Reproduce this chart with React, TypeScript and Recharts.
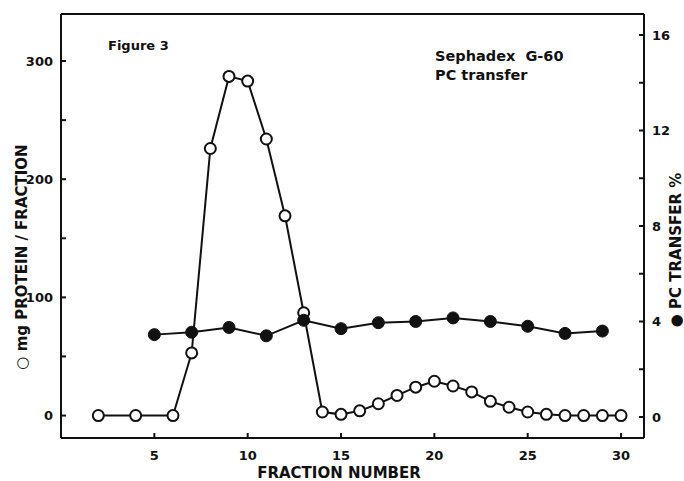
import React from 'react';
import { LineChart, Line, XAxis, YAxis } from 'recharts';

// Sephadex G-60 column: protein per fraction (open circles, left axis)
const proteinFractions = [2, 4, 6, 7, 8, 9, 10, 11, 12, 13, 14, 15, 16, 17, 18, 19, 20, 21, 22, 23, 24, 25, 26, 27, 28, 29, 30];
const proteinMg = [0, 0, 0, 53, 226, 287, 283, 234, 169, 87, 3, 1, 4, 10, 17, 24, 29, 25, 20, 12, 7, 3, 1, 0, 0, 0, 0];

// PC transfer activity (filled circles, right axis)
const transferFractions = [5, 7, 9, 11, 13, 15, 17, 19, 21, 23, 25, 27, 29];
const transferPct = [3.45, 3.55, 3.75, 3.4, 4.05, 3.7, 3.95, 4.0, 4.15, 4.0, 3.8, 3.5, 3.6];

// Axis ticks and the subset that carries a label
const fractionTicks = [5, 10, 15, 20, 25, 30];
const proteinTicks = [0, 50, 100, 150, 200, 250, 300];
const proteinLabels = [0, 100, 200, 300];
const transferTicks = [0, 2, 4, 6, 8, 10, 12, 14, 16];
const transferLabels = [0, 4, 8, 12, 16];

const proteinData = proteinFractions.map((f, i) => ({ fraction: f, mg: proteinMg[i] }));
const transferData = transferFractions.map((f, i) => ({ fraction: f, pct: transferPct[i] }));

const FONT = '"DejaVu Sans", sans-serif';
const INK = '#111';

const W = 684;
const H = 481;
const PLOT = { left: 61, top: 14, right: 644, bottom: 438 };
const LEFT_W = 40;
const RIGHT_W = 30;
const BOTTOM_H = 30;
const TOP_H = 1;

const LeftTick = (props: any) => {
  const { x, y, payload } = props;
  return (
    <g>
      <line x1={x} x2={x + 5} y1={y} y2={y} stroke={INK} strokeWidth={2} />
      {proteinLabels.includes(payload.value) && (
        <text x={x - 8} y={y} dy="0.36em" textAnchor="end" fontFamily={FONT} fontWeight="bold" fontSize={13} fill={INK}>
          {payload.value}
        </text>
      )}
    </g>
  );
};

const RightTick = (props: any) => {
  const { x, y, payload } = props;
  return (
    <g>
      <line x1={x - 5} x2={x} y1={y} y2={y} stroke={INK} strokeWidth={2} />
      {transferLabels.includes(payload.value) && (
        <text x={x + 8} y={y} dy="0.36em" textAnchor="start" fontFamily={FONT} fontWeight="bold" fontSize={13} fill={INK}>
          {payload.value}
        </text>
      )}
    </g>
  );
};

const BottomTick = (props: any) => {
  const { x, y, payload } = props;
  return (
    <g>
      <line x1={x} x2={x} y1={y - 5} y2={y} stroke={INK} strokeWidth={2} />
      <text x={x} y={y + 17} dy="0.36em" textAnchor="middle" fontFamily={FONT} fontWeight="bold" fontSize={13} fill={INK}>
        {payload.value}
      </text>
    </g>
  );
};

export default function App() {
  return (
    <div style={{ position: 'absolute', left: 0, top: 0, width: W, height: H, background: '#fff' }}>
      <LineChart
        width={W}
        height={H}
        margin={{
          top: PLOT.top - TOP_H,
          left: PLOT.left - LEFT_W,
          right: W - PLOT.right - RIGHT_W,
          bottom: H - PLOT.bottom - BOTTOM_H,
        }}
      >
        <XAxis
          xAxisId="frac"
          dataKey="fraction"
          type="number"
          domain={[0, 31.23]}
          allowDataOverflow
          ticks={fractionTicks}
          interval={0}
          height={BOTTOM_H}
          tickSize={0}
          tickMargin={0}
          tickLine={false}
          tick={<BottomTick />}
          axisLine={{ stroke: INK, strokeWidth: 2 }}
        />
        <XAxis
          xAxisId="top"
          orientation="top"
          type="number"
          domain={[0, 31.23]}
          height={TOP_H}
          ticks={[]}
          tick={false}
          tickLine={false}
          axisLine={{ stroke: INK, strokeWidth: 2 }}
        />
        <YAxis
          yAxisId="mg"
          orientation="left"
          type="number"
          domain={[-19, 339.8]}
          allowDataOverflow
          ticks={proteinTicks}
          interval={0}
          width={LEFT_W}
          tickSize={0}
          tickMargin={0}
          tickLine={false}
          tick={<LeftTick />}
          axisLine={{ stroke: INK, strokeWidth: 2 }}
        />
        <YAxis
          yAxisId="pct"
          orientation="right"
          type="number"
          domain={[-0.88, 16.88]}
          allowDataOverflow
          ticks={transferTicks}
          interval={0}
          width={RIGHT_W}
          tickSize={0}
          tickMargin={0}
          tickLine={false}
          tick={<RightTick />}
          axisLine={{ stroke: INK, strokeWidth: 2 }}
        />
        <Line
          xAxisId="frac"
          yAxisId="mg"
          data={proteinData}
          dataKey="mg"
          type="linear"
          stroke={INK}
          strokeWidth={2}
          dot={{ r: 5.5, fill: '#fff', stroke: INK, strokeWidth: 2 }}
          isAnimationActive={false}
        />
        <Line
          xAxisId="frac"
          yAxisId="pct"
          data={transferData}
          dataKey="pct"
          type="linear"
          stroke={INK}
          strokeWidth={2}
          dot={{ r: 6, fill: INK, stroke: INK, strokeWidth: 1 }}
          isAnimationActive={false}
        />
      </LineChart>
      <svg
        width={W}
        height={H}
        style={{ position: 'absolute', left: 0, top: 0, pointerEvents: 'none' }}
      >
        <g fontFamily={FONT} fontWeight="bold" fill={INK}>
          <text x={108} y={50} fontSize={13}>Figure 3</text>
          <text x={435} y={61} fontSize={14.5}>{'Sephadex\u00A0\u00A0G-60'}</text>
          <text x={435} y={80} fontSize={14.5}>PC transfer</text>
          <text x={339} y={473} dy="0.36em" textAnchor="middle" fontSize={15}>FRACTION NUMBER</text>
          <text transform="translate(22, 257) rotate(-90)" textAnchor="middle" dy="0.36em" fontSize={15}>
            ○ mg PROTEIN / FRACTION
          </text>
          <text transform="translate(676, 250) rotate(-90)" textAnchor="middle" dy="0.36em" fontSize={15}>
            ● PC TRANSFER %
          </text>
        </g>
      </svg>
    </div>
  );
}
